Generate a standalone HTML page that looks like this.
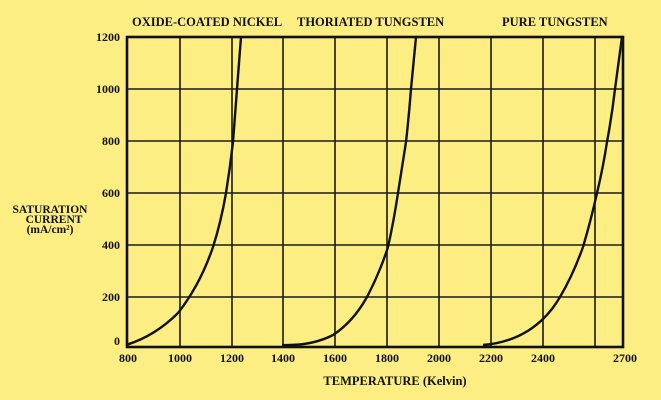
<!DOCTYPE html>
<html><head><style>
body{margin:0;background:#fcee82;}
svg{display:block}
text{font-family:"Liberation Serif",serif;font-weight:bold;fill:#111;}
</style></head><body>
<svg width="661" height="400" viewBox="0 0 661 400">
<rect width="661" height="400" fill="#fcee82"/>
<g stroke="#1a1a1a" stroke-width="1.6" fill="none">
<path d="M180 37V347M232 37V347M283 37V347M335 37V347M387 37V347M439 37V347M491 37V347M543 37V347M595 37V347"/>
<path d="M127 89H623M127 141H623M127 193H623M127 245H623M127 297H623"/>
</g>
<rect x="127" y="37" width="496" height="310" fill="none" stroke="#111" stroke-width="2.6"/>
<g stroke="#111" stroke-width="2.4" fill="none" stroke-linejoin="round">
<path d="M126 345 Q155 336 178 313 Q200 285 213 247 Q221 222 226 193 Q230 168 233 142 Q235 115 237 89 L241 37"/>
<path d="M282 345 Q312 346 333 335 Q353 322 367 297 Q380 272 388 247 Q394 220 398 193 Q402 168 406 142 Q409 115 411 89 L416 37"/>
<path d="M483 345 Q520 342 544 318 Q553 309 560 297 Q573 275 583 247 Q591 220 597 193 Q603 168 607 142 Q612 115 615 89 L622 37"/>
</g>
<g font-size="12" text-anchor="end">
<text x="120" y="41">1200</text><text x="120" y="93">1000</text><text x="120" y="145">800</text>
<text x="120" y="197">600</text><text x="120" y="249">400</text><text x="120" y="301">200</text><text x="120" y="345">0</text>
</g>
<g font-size="12" text-anchor="middle">
<text x="128" y="362">800</text><text x="180" y="362">1000</text><text x="232" y="362">1200</text>
<text x="283" y="362">1400</text><text x="335" y="362">1600</text><text x="387" y="362">1800</text>
<text x="439" y="362">2000</text><text x="491" y="362">2200</text><text x="543" y="362">2400</text>
<text x="625" y="362">2700</text>
<text x="395" y="385" font-size="12.5">TEMPERATURE (Kelvin)</text>
</g>
<g font-size="12.5">
<text x="132" y="26">OXIDE-COATED NICKEL</text>
<text x="297" y="26">THORIATED TUNGSTEN</text>
<text x="502" y="26">PURE TUNGSTEN</text>
</g>
<g font-size="11.5" text-anchor="middle">
<text x="50" y="213">SATURATION</text>
<text x="54" y="223">CURRENT</text>
<text x="50" y="233">(mA/cm²)</text>
</g>
</svg>
</body></html>
